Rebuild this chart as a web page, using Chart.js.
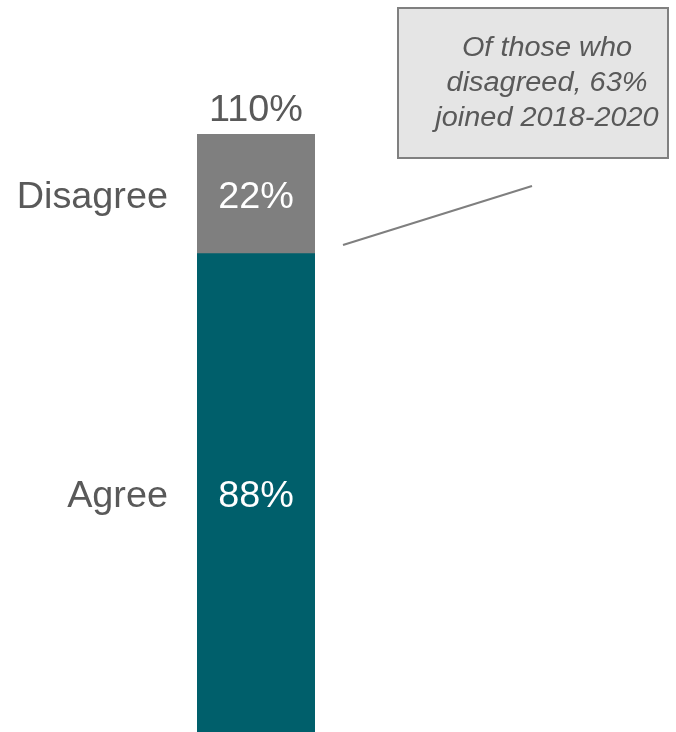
<!DOCTYPE html>
<html lang="en">
<head>
    <meta charset="UTF-8" />
    <title>Agree / Disagree</title>
    <script src="https://cdn.jsdelivr.net/npm/chart.js"></script>
    <style>
        html, body { margin: 0; padding: 0; background: #fff; }
        #wrap { width: 676px; height: 732px; position: relative; }
    </style>
</head>
<body>
<div id="wrap"><canvas id="chart"></canvas></div>
<script>
// data
const categories = ['Response'];
const seriesNames = ['Agree', 'Disagree'];
const agreeValues = [88];
const disagreeValues = [22];
const totalLabel = '110%';
const calloutLines = ['Of those who', 'disagreed, 63%', 'joined 2018-2020'];

const FONT = '"Liberation Sans", Arial, sans-serif';

// text in the reference is slightly wider than plain Arial
function drawText(ctx, text, x, y, align, sx) {
    ctx.save();
    ctx.translate(x, y);
    ctx.scale(sx, 1);
    ctx.textAlign = align;
    ctx.fillText(text, 0, 0);
    ctx.restore();
}

// labels beside / inside / above the bar, plus the callout box
const labelPlugin = {
    id: 'labels',
    afterDatasetsDraw(chart) {
        const ctx = chart.ctx;
        ctx.save();
        ctx.font = '36px ' + FONT;
        ctx.textBaseline = 'alphabetic';

        chart.data.datasets.forEach((ds, i) => {
            const bar = chart.getDatasetMeta(i).data[0];
            const midY = (bar.y + bar.base) / 2;
            // value inside bar
            ctx.fillStyle = '#ffffff';
            drawText(ctx, ds.data[0] + '%', bar.x, midY + 14, 'center', 1.05);
            // series name on the left
            ctx.fillStyle = '#595959';
            drawText(ctx, ds.label, bar.x - bar.width / 2 - 29, midY + 14, 'right', 1.05);
        });

        // total above the bar
        const top = chart.getDatasetMeta(1).data[0];
        ctx.fillStyle = '#595959';
        drawText(ctx, totalLabel, top.x, top.y - 13, 'center', 1.05);

        // callout
        ctx.fillStyle = '#e5e5e5';
        ctx.strokeStyle = '#808080';
        ctx.lineWidth = 2;
        ctx.fillRect(398, 8, 270, 150);
        ctx.strokeRect(398, 8, 270, 150);
        ctx.fillStyle = '#595959';
        ctx.font = 'italic 27px ' + FONT;
        calloutLines.forEach((t, i) => drawText(ctx, t, 547, 56 + i * 35, 'center', 1.07));

        // leader line
        ctx.beginPath();
        ctx.strokeStyle = '#7f7f7f';
        ctx.lineWidth = 2;
        ctx.moveTo(343, 245);
        ctx.lineTo(532, 186);
        ctx.stroke();
        ctx.restore();
    }
};

new Chart(document.getElementById('chart'), {
    type: 'bar',
    data: {
        labels: categories,
        datasets: [
            { label: seriesNames[0], data: agreeValues, backgroundColor: '#005f6b' },
            { label: seriesNames[1], data: disagreeValues, backgroundColor: '#7f7f7f' }
        ]
    },
    options: {
        responsive: true,
        maintainAspectRatio: false,
        animation: false,
        layout: { padding: { left: 197, right: 361, top: 134, bottom: 0 } },
        datasets: { bar: { barPercentage: 1, categoryPercentage: 1 } },
        plugins: { legend: { display: false }, tooltip: { enabled: false } },
        scales: {
            x: { stacked: true, display: false },
            y: { stacked: true, display: false, min: 0, max: 110 }
        }
    },
    plugins: [labelPlugin]
});
</script>
</body>
</html>
